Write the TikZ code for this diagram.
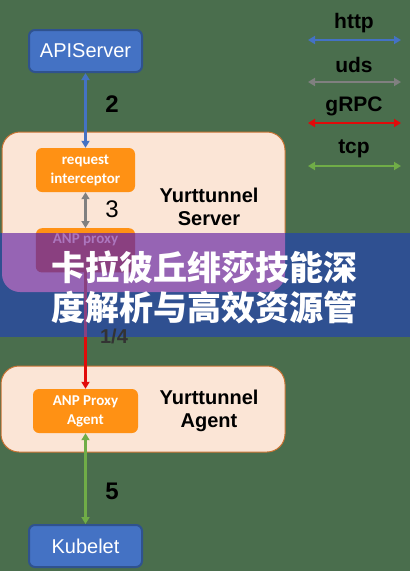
\documentclass[tikz,border=0pt]{standalone}
\usepackage{fontspec}
\setmainfont{Liberation Sans}
\newfontfamily\calib{Carlito}
\newfontfamily\cjk{Noto Sans CJK SC}
\usetikzlibrary{arrows.meta}
\definecolor{bggreen}{RGB}{74,110,77}
\definecolor{kblue}{RGB}{68,114,196}
\definecolor{kblueline}{RGB}{47,82,143}
\definecolor{korange}{RGB}{255,145,20}
\definecolor{kpeach}{RGB}{251,229,214}
\definecolor{kpeachline}{RGB}{200,115,50}
\definecolor{kred}{RGB}{225,10,10}
\definecolor{kgreen}{RGB}{112,173,71}
\definecolor{kgray}{RGB}{128,128,128}
\definecolor{bannerblue}{RGB}{47,80,145}
\definecolor{bannerpurple}{RGB}{150,100,180}
\definecolor{bannerdark}{RGB}{138,64,128}
\definecolor{bannerfaint}{RGB}{172,118,190}
\tikzset{
  k8sbox/.style={draw=kblueline, line width=2pt, fill=kblue, rounded corners=6pt,
    minimum width=113pt, minimum height=42pt, text=white, font=\fontsize{20}{24}\selectfont},
  compbox/.style={fill=korange, rounded corners=6pt, minimum height=44pt,
    text=white, align=center, font=\calib\bfseries\fontsize{15}{19}\selectfont},
  hostbox/.style={draw=kpeachline, line width=1pt, fill=kpeach, rounded corners=18pt},
  hostname/.style={align=center, font=\bfseries\fontsize{20}{23}\selectfont},
  steplabel/.style={font=\fontsize{24}{28}\selectfont},
  link/.style={line width=2.4pt, {Triangle[width=8pt,length=7pt]}-{Triangle[width=8pt,length=7pt]}},
  legendtext/.style={font=\bfseries\fontsize{21}{25}\selectfont}
}
\begin{document}
\begin{tikzpicture}[x=1pt,y=-1pt]
\useasboundingbox (0,0) rectangle (410,571);
\fill[bggreen] (0,0) rectangle (410,571);

% hosts
\draw[hostbox] (2,132) rectangle (285,292);
\draw[hostbox] (1,366) rectangle (285,452);
\node[hostname] (srvname) at (209,207) {Yurttunnel\\Server};
\node[hostname] (agtname) at (209,411) {Yurttunnel\\Agent};

\node[k8sbox] (api) at (85.5,51) {APIServer};
\node[compbox, minimum width=99pt] (reqint) at (85.5,170) {request\\interceptor};
\node[compbox, minimum width=99pt, anchor=north] (anpsrv) at (85.5,228) {};
\node[compbox, minimum width=105pt] (anpagent) at (85.5,411) {ANP Proxy\\Agent};
\node[k8sbox] (kubelet) at (85.5,546) {Kubelet};

\draw[link, kblue] (api) -- (reqint);
\draw[link, kgray] (reqint) -- (anpsrv);
\draw[link, kred] (anpsrv) -- (anpagent);
\draw[link, kgreen] (anpagent) -- (kubelet);

\node[steplabel, font=\bfseries\fontsize{24}{28}\selectfont] (s2) at (112,104) {2};
\node[steplabel] (s3) at (112,209) {3};
\node[steplabel, font=\bfseries\fontsize{24}{28}\selectfont] (s5) at (112,491) {5};

% legend
\foreach \proto/\col/\y in {http/kblue/40, uds/kgray/82, gRPC/kred/123, tcp/kgreen/166}{
  \node[legendtext] (lg-\proto) at (354,\y-17) {\proto};
  \coordinate (la-\proto) at (308,\y);
  \coordinate (lb-\proto) at (401,\y);
  \draw[link, line width=2pt, \col] (la-\proto) -- (lb-\proto);
}

% banner over the picture
\fill[bannerblue] (0,233) rectangle (410,337);
\begin{scope}
  \clip (0,233) rectangle (410,337);
  \fill[bannerpurple, rounded corners=18pt] (2,132) rectangle (285,292);
  \fill[bannerdark, rounded corners=6pt] (anpsrv.north west) rectangle (anpsrv.south east);
\end{scope}
\coordinate (bandend) at (85.5,337);
\draw[line width=2.4pt, bannerdark] (anpsrv.south) -- (bandend);
\node[text=bannerfaint, font=\calib\bfseries\fontsize{15}{19}\selectfont] (anptext) at (85.5,240) {ANP proxy};
\node[steplabel, text=black!80, font=\bfseries\fontsize{20}{24}\selectfont] (s14) at (114,336) {1/4};
\node[text=white, font=\cjk\bfseries\fontsize{34}{40}\selectfont, align=center] (banner)
  at (205,287) {卡拉彼丘绯莎技能深\\度解析与高效资源管};
\end{tikzpicture}
\end{document}
